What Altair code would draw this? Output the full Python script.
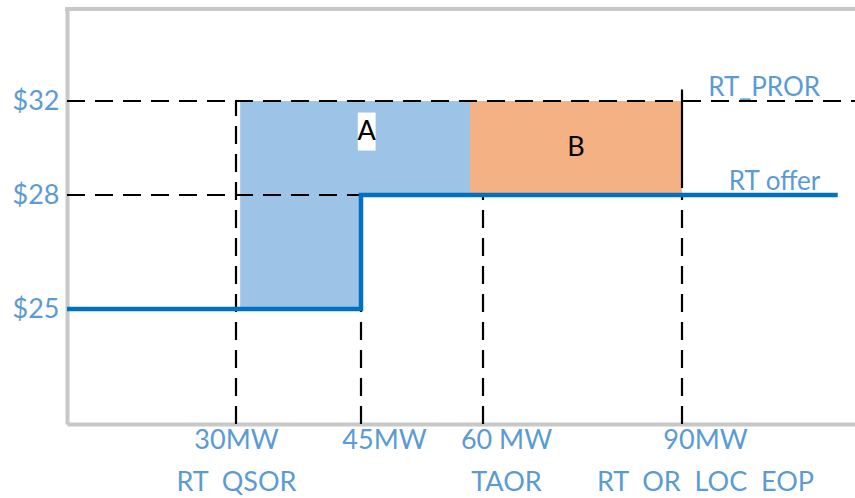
import altair as alt
import pandas as pd

# ---- values ----
mw_marks = [30, 45, 60, 90]
price_marks = [25, 28, 32]
x_label_lines = [["30MW", "RT\u00a0\u00a0QSOR"], ["45MW"], ["60 MW", "TAOR"], ["90MW", "RT\u00a0\u00a0OR\u00a0\u00a0LOC\u00a0\u00a0EOP"]]

offer_mw = [0, 45, 108]
offer_price = [25, 28, 28]

areaA_x = [30.5, 45]
areaA_x2 = [45, 58.4]
areaA_y = [25, 28]
areaA_y2 = [32, 32]

areaB_x = [58.4]
areaB_x2 = [90]
areaB_y = [28]
areaB_y2 = [32]

dash_x = [0, 0, 30, 45, 60, 90]
dash_x2 = [110, 45, 30, 45, 60, 90]
dash_y = [32, 28, 21, 21, 21, 21]
dash_y2 = [32, 28, 32, 28, 28, 28]

solid_x = [90]
solid_y = [28.3]
solid_y2 = [32.5]

region_labels = ["A", "B"]
region_x = [45.7, 74]
region_y = [30.7, 30.0]

line_labels = ["RT_PROR", "RT offer"]
line_label_x = [99.5, 100.7]
line_label_y = [32, 28]

# ---- scales (piecewise, as drawn in the figure) ----
xs = alt.Scale(domain=[0, 30, 45, 60, 90, 110], range=[0, 169, 294, 416, 615, 788], nice=False, zero=False)
ys = alt.Scale(domain=[21, 25, 28, 32, 36], range=[415, 300, 186, 92, 0], nice=False, zero=False)

BLUE_TXT = "#5b9bd5"
FONT = "Lato"

# axis label expression built from the label lists
parts = []
for v, lines in zip(mw_marks, x_label_lines):
    if len(lines) == 1:
        val = "'" + lines[0] + "'"
    else:
        val = "[" + ",".join("'" + s + "'" for s in lines) + "]"
    parts.append((v, val))
expr = "''"
for v, val in reversed(parts):
    expr = f"datum.value == {v} ? {val} : ({expr})"

offer_df = pd.DataFrame({"mw": offer_mw, "price": offer_price})
a_df = pd.DataFrame({"x": areaA_x, "x2": areaA_x2, "y": areaA_y, "y2": areaA_y2})
b_df = pd.DataFrame({"x": areaB_x, "x2": areaB_x2, "y": areaB_y, "y2": areaB_y2})
dash_df = pd.DataFrame({"x": dash_x, "x2": dash_x2, "y": dash_y, "y2": dash_y2})
solid_df = pd.DataFrame({"x": solid_x, "y": solid_y, "y2": solid_y2})
reg_df = pd.DataFrame({"t": region_labels, "x": region_x, "y": region_y})
ll_df = pd.DataFrame({"t": line_labels, "x": line_label_x, "y": line_label_y})
axis_df = pd.DataFrame({"mw": mw_marks})

x_axis = alt.Axis(values=mw_marks, labelExpr=expr, ticks=False, grid=False, title=None,
                  domainColor="#c8c8c8", domainWidth=4, labelColor=BLUE_TXT, labelFont=FONT,
                  labelFontSize=27, labelLineHeight=42, labelPadding=3, labelBaseline="top",
                  labelOverlap=False, labelFlush=False, labelBound=False, labelLimit=0,
                  labelOffset={"condition": {"test": "datum.value == 30", "value": 0}, "value": 23})
y_axis = alt.Axis(values=price_marks, labelExpr="'$' + datum.value", ticks=False, grid=False, title=None,
                  domainColor="#c8c8c8", domainWidth=4, labelColor=BLUE_TXT, labelFont=FONT,
                  labelFontSize=27, labelPadding=8, labelOverlap=False, labelFlush=False, labelBound=False)

rectA = alt.Chart(a_df).mark_rect(color="#9dc3e6").encode(
    x=alt.X("x:Q", scale=xs, axis=x_axis), x2="x2", y=alt.Y("y:Q", scale=ys, axis=y_axis), y2="y2")
rectB = alt.Chart(b_df).mark_rect(color="#f4b183").encode(
    x=alt.X("x:Q", scale=xs), x2="x2", y=alt.Y("y:Q", scale=ys), y2="y2")
dashes = alt.Chart(dash_df).mark_rule(color="black", strokeWidth=2.2, strokeDash=[18, 10]).encode(
    x=alt.X("x:Q", scale=xs), x2="x2", y=alt.Y("y:Q", scale=ys), y2="y2")
solid = alt.Chart(solid_df).mark_rule(color="black", strokeWidth=2.2).encode(
    x=alt.X("x:Q", scale=xs), y=alt.Y("y:Q", scale=ys), y2="y2")
offer = alt.Chart(offer_df).mark_line(color="#0070c0", strokeWidth=4.5, interpolate="step-after").encode(
    x=alt.X("mw:Q", scale=xs), y=alt.Y("price:Q", scale=ys))
boxA = alt.Chart(reg_df).transform_filter("datum.t == 'A'").mark_point(
    shape="M-0.47,-1L0.47,-1L0.47,1L-0.47,1Z", filled=True, fill="white", opacity=1, size=1444, strokeWidth=0).encode(
    x=alt.X("x:Q", scale=xs), y=alt.Y("y:Q", scale=ys))
reg_text = alt.Chart(reg_df).mark_text(font=FONT, fontSize=27, color="black").encode(
    x=alt.X("x:Q", scale=xs), y=alt.Y("y:Q", scale=ys), text="t:N")
ll_text = alt.Chart(ll_df).mark_text(font=FONT, fontSize=26, color=BLUE_TXT, dy=-13).encode(
    x=alt.X("x:Q", scale=xs), y=alt.Y("y:Q", scale=ys), text="t:N")
top_border = alt.Chart(axis_df).mark_rule(color="#c8c8c8", strokeWidth=4).encode(
    x=alt.value(-2), x2=alt.value(790), y=alt.value(0))

chart = alt.layer(rectA, rectB, dashes, solid, offer, boxA, reg_text, ll_text, top_border).properties(
    width=788, height=415,
    autosize=alt.AutoSizeParams(type="none"),
    padding={"left": 67, "top": 9, "right": 0, "bottom": 74},
).configure_view(stroke=None)

chart.save("out.html", embed_options={"renderer": "svg", "actions": False})
